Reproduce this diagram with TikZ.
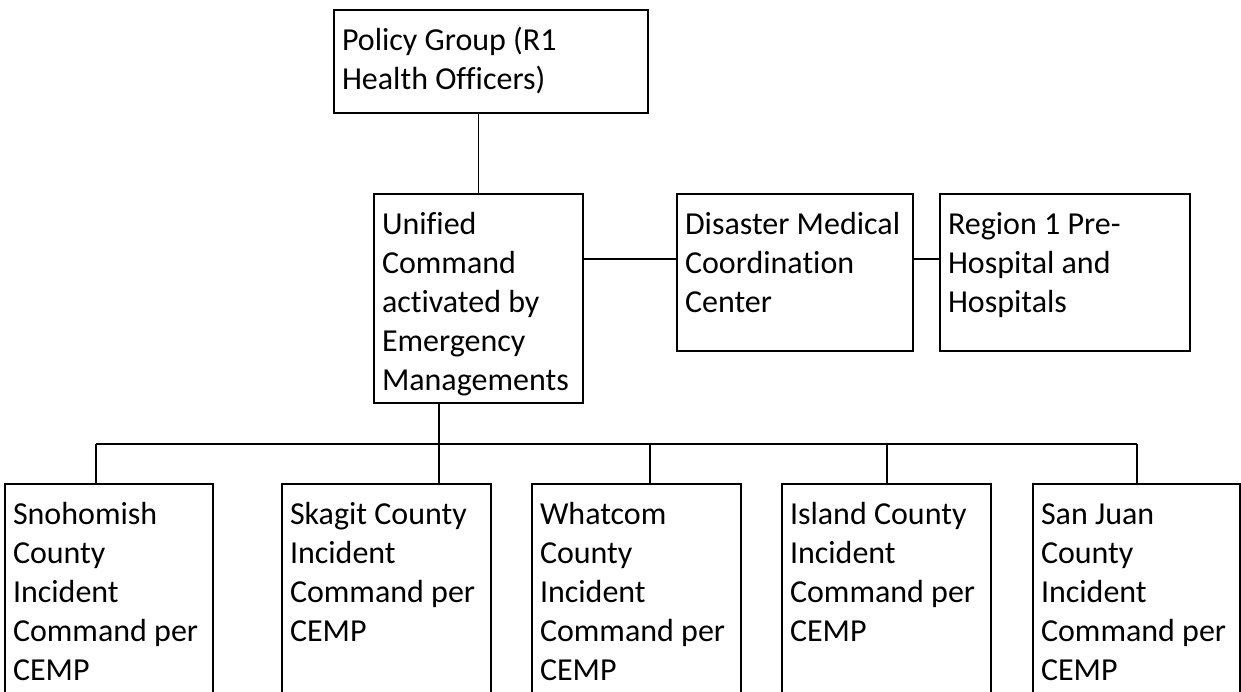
\documentclass[tikz,border=0pt]{standalone}
\usepackage{fontspec}
\setmainfont{Carlito}[Ligatures={NoCommon,NoRequired,NoContextual}]
\tikzset{
  boxnode/.style={draw, line width=2.2pt, inner sep=0pt, outer sep=0pt, anchor=north west},
  txt/.style={anchor=north west, inner sep=0pt, outer sep=0pt, align=left, xshift=8pt, yshift=-12.7pt, font=\fontsize{32}{39}\selectfont},
  conn/.style={line width=1.4pt}
}
\begin{document}
\begin{tikzpicture}[x=1pt,y=1pt]
\useasboundingbox (0,0) rectangle (1241,-691);
\clip (0,0) rectangle (1241,-691);
% boxes
\node[boxnode, minimum width=314pt, minimum height=103pt] (pol) at (334,-10) {};
\node[boxnode, minimum width=209pt, minimum height=209pt] (uc) at (374,-194) {};
\node[boxnode, minimum width=236pt, minimum height=157pt] (dm) at (677,-194) {};
\node[boxnode, minimum width=250pt, minimum height=157pt] (rh) at (940,-194) {};
\node[boxnode, minimum width=208pt, minimum height=260pt] (sn) at (5,-484) {};
\node[boxnode, minimum width=209pt, minimum height=260pt] (sk) at (282,-484) {};
\node[boxnode, minimum width=209pt, minimum height=260pt] (wh) at (532,-484) {};
\node[boxnode, minimum width=209pt, minimum height=260pt] (il) at (782,-484) {};
\node[boxnode, minimum width=207pt, minimum height=260pt] (sj) at (1033,-484) {};
% texts
\node[txt] (polt) at (pol.north west) {\strut Policy Group (R1\\Health Officers)};
\node[txt] (uct) at (uc.north west) {\strut Unified\\Command\\activated by\\Emergency\\Managements};
\node[txt] (dmt) at (dm.north west) {\strut Disaster Medical\\Coordination\\Center};
\node[txt] (rht) at (rh.north west) {\strut Region 1 Pre-\\Hospital and\\Hospitals};
\node[txt] (snt) at (sn.north west) {\strut Snohomish\\County\\Incident\\Command per\\CEMP};
\node[txt] (skt) at (sk.north west) {\strut Skagit County\\Incident\\Command per\\CEMP};
\node[txt] (wht) at (wh.north west) {\strut Whatcom\\County\\Incident\\Command per\\CEMP};
\node[txt] (ilt) at (il.north west) {\strut Island County\\Incident\\Command per\\CEMP};
\node[txt] (sjt) at (sj.north west) {\strut San Juan\\County\\Incident\\Command per\\CEMP};
% connectors
\draw[conn] (uc.north) -- (uc.north |- pol.south);
\coordinate (hy) at (0,-259);
\draw[conn] (uc.east |- hy) -- (dm.west |- hy);
\draw[conn] (dm.east |- hy) -- (rh.west |- hy);
\coordinate (d1) at (96,-444);
\coordinate (d2) at (439,-444);
\coordinate (d3) at (650,-444);
\coordinate (d4) at (887,-444);
\coordinate (d5) at (1137,-444);
\draw[conn] (d2 |- uc.south) -- (d2);
\draw[conn] (d1) -- (d5);
\draw[conn] (d1) -- (d1 |- sn.north);
\draw[conn] (d2) -- (d2 |- sk.north);
\draw[conn] (d3) -- (d3 |- wh.north);
\draw[conn] (d4) -- (d4 |- il.north);
\draw[conn] (d5) -- (d5 |- sj.north);
\end{tikzpicture}
\end{document}
